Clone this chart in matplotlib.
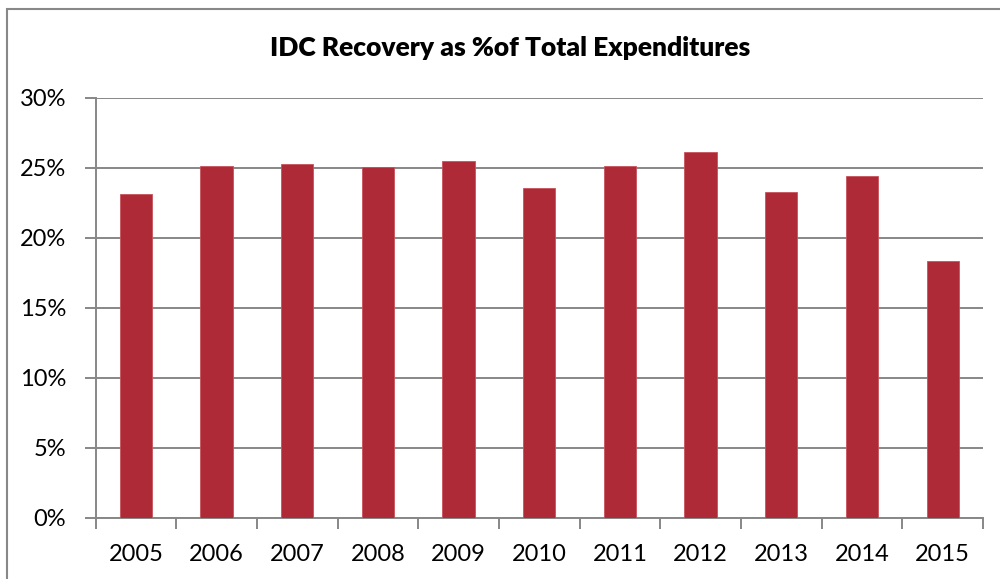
import matplotlib
matplotlib.use("Agg")
import matplotlib.pyplot as plt
from matplotlib.patches import Rectangle
from matplotlib.ticker import FuncFormatter
import numpy as np

years = ["2005", "2006", "2007", "2008", "2009", "2010", "2011", "2012", "2013", "2014", "2015"]
idc_pct = [23.14, 25.12, 25.26, 25.05, 25.48, 23.57, 25.12, 26.12, 23.24, 24.4, 18.34]
y_ticks = [0, 5, 10, 15, 20, 25, 30]

plt.rcParams['font.family'] = ['Lato', 'DejaVu Sans']

fig = plt.figure(figsize=(10, 5.79), dpi=100)
ax = fig.add_axes([0.0955, 0.1059, 0.8875, 0.7254])

x = np.arange(len(years))
ax.bar(x, idc_pct, width=0.4, color="#AD2A36", edgecolor="#C8525D", linewidth=0.6, zorder=3)

ax.set_xlim(-0.5, len(years) - 0.5)
ax.set_ylim(0, 30)
ax.set_yticks(y_ticks)
ax.yaxis.set_major_formatter(FuncFormatter(lambda v, p: f"{int(v)}%"))
ax.grid(axis="y", color="#878787", linewidth=1.4, zorder=0)
ax.set_axisbelow(True)

ax.set_xticks(x)
ax.set_xticklabels(years)
ax.set_xticks(np.arange(-0.5, len(years)), minor=True)
ax.tick_params(axis="x", which="major", length=0, pad=19, labelsize=17)
ax.tick_params(axis="x", which="minor", length=8, width=1.4, color="#878787", direction="out")
ax.tick_params(axis="y", which="major", length=8, width=1.4, color="#878787", pad=13, labelsize=17)

for s in ["top", "right"]:
    ax.spines[s].set_visible(False)
for s in ["left", "bottom"]:
    ax.spines[s].set_color("#878787")
    ax.spines[s].set_linewidth(1.4)

fig.text(0.510, 0.917, "IDC Recovery as %of Total Expenditures", ha="center", va="center",
         fontsize=19, fontweight="heavy")

border = Rectangle((0.007, -0.05), 1.1, 1.05 - 0.0155, transform=fig.transFigure,
                   fill=False, edgecolor="#888888", linewidth=1.5, zorder=10)
fig.patches.append(border)

fig.savefig("out.png", dpi=100, facecolor="white")
